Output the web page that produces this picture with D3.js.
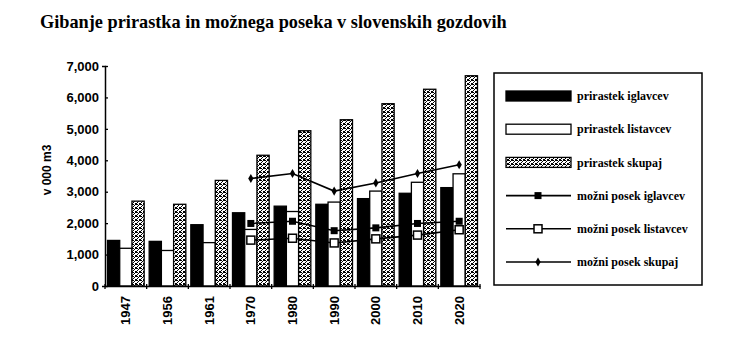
<!DOCTYPE html>
<html>
<head>
<meta charset="utf-8">
<script src="https://cdn.jsdelivr.net/npm/d3@7"></script>
<style>
body{margin:0;background:#fff;}
svg text{font-family:"Liberation Sans",Arial,sans-serif;fill:#000;}
</style>
</head>
<body>
<svg id="chart" width="746" height="360"></svg>
<script>
/* prirastek in mozni posek */
var years = ["1947","1956","1961","1970","1980","1990","2000","2010","2020"];
var prirastekIglavcev = [1450,1420,1950,2330,2540,2600,2780,2950,3130];
var prirastekListavcev = [1200,1130,1380,1800,2370,2670,3020,3300,3570];
var prirastekSkupaj = [2700,2600,3360,4160,4940,5290,5800,6260,6690];
var posekYears = ["1970","1980","1990","2000","2010","2020"];
var posekIglavcev = [1990,2060,1760,1850,1990,2060];
var posekListavcev = [1460,1520,1370,1500,1620,1790];
var posekSkupaj = [3420,3580,3020,3280,3580,3860];
var yTicks = [0,1000,2000,3000,4000,5000,6000,7000];
var legendLabels = ["prirastek iglavcev","prirastek listavcev","prirastek skupaj",
		    "možni posek iglavcev","možni posek listavcev","možni posek skupaj"];

var svg = d3.select("#chart");
var pLeft = 105, pRight = 480, pTop = 66, pBottom = 286;

// stipple for the "skupaj" bars
var pat = svg.append("defs").append("pattern")
    .attr("id","stip").attr("width",4).attr("height",4)
    .attr("patternUnits","userSpaceOnUse");
pat.append("rect").attr("width",4).attr("height",4).attr("fill","#fff");
[[0,0],[2,1],[1,2],[3,3],[3,0],[1,0],[0,3]].forEach(function(p){
    pat.append("rect").attr("x",p[0]).attr("y",p[1])
	.attr("width",1).attr("height",1).attr("fill","#000");
});

svg.append("text")
    .attr("x",40).attr("y",28)
    .style("font-family","'Liberation Serif','Times New Roman',serif")
    .style("font-weight","bold").style("font-size","18.3px")
    .text("Gibanje prirastka in možnega poseka v slovenskih gozdovih");

var x0 = d3.scaleBand().domain(years).range([pLeft,pRight]);
var x1 = d3.scaleBand().domain([0,1,2]).range([2.5,x0.bandwidth()-2.5]);
var y = d3.scaleLinear().domain([0,7000]).range([pBottom,pTop]);

var series = [
    {vals: prirastekIglavcev, fill: "#000"},
    {vals: prirastekListavcev, fill: "#fff"},
    {vals: prirastekSkupaj, fill: "url(#stip)"}
];

var g = svg.append("g");
series.forEach(function(s,i){
    g.selectAll(null).data(years).enter().append("rect")
	.attr("x",function(d){ return x0(d) + x1(i); })
	.attr("y",function(d,j){ return y(s.vals[j]); })
	.attr("width",x1.bandwidth())
	.attr("height",function(d,j){ return pBottom - y(s.vals[j]); })
	.attr("fill",s.fill)
	.attr("stroke","#000").attr("stroke-width",1.3);
});

// y axis
var ya = svg.append("g").attr("transform","translate(" + pLeft + ",0)")
    .call(d3.axisLeft(y).tickValues(yTicks).tickFormat(d3.format(",")).tickSize(3));
ya.select(".domain").attr("stroke-width",1.5);
ya.selectAll(".tick line").attr("x2",3).attr("stroke-width",1.3);
ya.selectAll(".tick text")
    .style("font-size","13px").style("font-weight","bold").attr("x",-6);

svg.append("text")
    .attr("transform","translate(51,170) rotate(-90)")
    .attr("text-anchor","middle")
    .style("font-size","12px").style("font-weight","bold")
    .text("v 000 m3");

// x axis
var xa = svg.append("g").attr("transform","translate(0," + pBottom + ")")
    .call(d3.axisBottom(x0).tickSize(0).tickSizeOuter(0));
xa.select(".domain").attr("stroke-width",1.5);
xa.selectAll(".tick text")
    .style("font-size","13px").style("font-weight","bold")
    .attr("text-anchor","end")
    .attr("transform","rotate(-90)")
    .attr("x",-10).attr("y",0).attr("dy","0.35em");
xa.selectAll(null).data(years.concat(["end"])).enter().append("line")
    .attr("x1",function(d){ return d == "end" ? pRight : x0(d); })
    .attr("x2",function(d){ return d == "end" ? pRight : x0(d); })
    .attr("y1",-2).attr("y2",3)
    .attr("stroke","#000").attr("stroke-width",1.3);

// mozni posek lines
var cx = function(d){ return x0(d) + x0.bandwidth()/2; };
var lines = [posekIglavcev,posekListavcev,posekSkupaj];
var markers = [
    function(sel){ sel.append("rect").attr("x",-3.5).attr("y",-3.5).attr("width",7).attr("height",7).attr("fill","#000"); },
    function(sel){ sel.append("rect").attr("x",-4).attr("y",-4).attr("width",8).attr("height",8).attr("fill","#fff").attr("stroke","#000").attr("stroke-width",1.5); },
    function(sel){ sel.append("path").attr("d",d3.symbol(d3.symbolDiamond,24)()).attr("fill","#000"); }
];
lines.forEach(function(vals,i){
    var line = d3.line()
	.x(function(d){ return cx(d); })
	.y(function(d,j){ return y(vals[j]); });
    svg.append("path").datum(posekYears)
	.attr("d",line).attr("fill","none")
	.attr("stroke","#000").attr("stroke-width",1.6);
    posekYears.forEach(function(d,j){
	var m = svg.append("g").attr("transform","translate(" + cx(d) + "," + y(vals[j]) + ")");
	markers[i](m);
    });
});

// legend
svg.append("rect")
    .attr("x",494).attr("y",73).attr("width",208).attr("height",212)
    .attr("fill","#fff").attr("stroke","#000").attr("stroke-width",1.5);
var ly = d3.scalePoint().domain(legendLabels).range([96,262]);
legendLabels.forEach(function(lab,i){
    var yy = ly(lab);
    if (i < 3) {
	svg.append("rect").attr("x",506).attr("y",yy-5).attr("width",65).attr("height",10)
	    .attr("fill",series[i].fill).attr("stroke","#000").attr("stroke-width",1.3);
    } else {
	svg.append("line").attr("x1",506).attr("x2",571).attr("y1",yy).attr("y2",yy)
	    .attr("stroke","#000").attr("stroke-width",1.6);
	markers[i-3](svg.append("g").attr("transform","translate(538," + yy + ")"));
    }
    svg.append("text").attr("x",577).attr("y",yy).attr("dy","0.35em")
	.style("font-family","'Liberation Serif','Times New Roman',serif")
	.style("font-size","12px").style("font-weight","bold")
	.text(lab);
});
</script>
</body>
</html>
